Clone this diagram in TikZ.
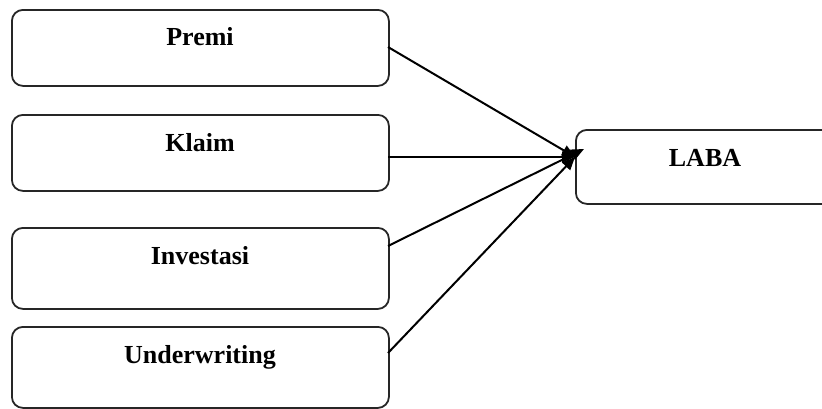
\documentclass[tikz,border=0pt]{standalone}
\usepackage{fontspec}
\setmainfont{Liberation Serif}
\usetikzlibrary{arrows.meta,calc}
\begin{document}
\begin{tikzpicture}[x=1pt,y=-1pt,
  box/.style={draw=black!85,line width=1.8pt,rounded corners=11pt,inner sep=0pt,anchor=north west},
  lbl/.style={font=\fontsize{26}{28}\selectfont\bfseries,anchor=base,inner sep=0pt},
  conn/.style={line width=2pt,-{Triangle[length=13pt,width=11pt]}}]
\useasboundingbox (0,0) rectangle (822,408);
\node[box,minimum width=377pt,minimum height=76pt] (premi) at (11,9) {};
\node[box,minimum width=377pt,minimum height=76pt] (klaim) at (11,114) {};
\node[box,minimum width=377pt,minimum height=81pt] (invest) at (11,227) {};
\node[box,minimum width=377pt,minimum height=81pt] (under) at (11,326) {};
\node[box,minimum width=265pt,minimum height=74pt] (laba) at (575,129) {};
\node[lbl] (tpremi) at (200,45) {Premi};
\node[lbl] (tklaim) at (200,151) {Klaim};
\node[lbl] (tinvest) at (200,264) {Investasi};
\node[lbl] (tunder) at (200,363) {Underwriting};
\node[lbl] (tlaba) at (705,166) {LABA};
\coordinate (tip) at (575,157);
\coordinate (tip1) at (584,149);
\coordinate (s1) at (388,47);
\coordinate (s2) at (388,157);
\coordinate (s3) at (388,246);
\coordinate (s4) at (388,353);
\draw[conn] (s1) -- (tip);
\draw[conn] (s2) -- (tip);
\draw[conn] (s3) -- (tip1);
\draw[conn] (s4) -- (tip);
\end{tikzpicture}
\end{document}
